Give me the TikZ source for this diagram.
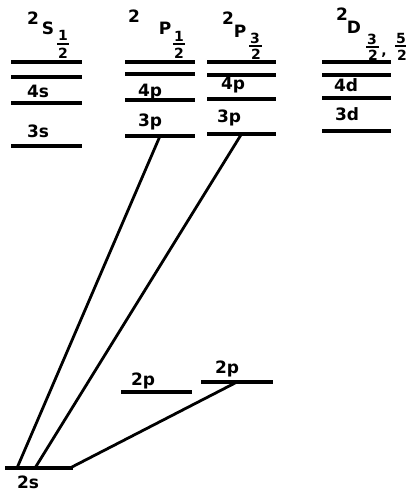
\documentclass[tikz,border=0pt]{standalone}
\usepackage{fontspec}
\setmainfont{DejaVu Sans}
\begin{document}
\begin{tikzpicture}[x=1pt,y=-1pt,
  lev/.style={fill=black, inner sep=0pt, minimum height=3.2pt},
  conn/.style={line width=2.8pt},
  lbl/.style={font=\bfseries\fontsize{17}{17}\selectfont, inner sep=0pt, anchor=base},
  ttl/.style={font=\bfseries\fontsize{17}{17}\selectfont, inner sep=0pt},
  frc/.style={font=\bfseries\fontsize{14}{14}\selectfont, inner sep=0pt},
  fbar/.style={line width=1.8pt}]
\useasboundingbox (0,0) rectangle (406,492);
% column 2S1/2
\node[lev, minimum width=71pt] (sa) at (46.5,62) {};
\node[lev, minimum width=71pt] (sb) at (46.5,77) {};
\node[lev, minimum width=71pt] (s4) at (46.5,103) {};
\node[lev, minimum width=71pt] (s3) at (46.5,146) {};
\node[lbl] (l4s) at (38,98) {4s};
\node[lbl] (l3s) at (38,137) {3s};
% column 2P1/2
\node[lev, minimum width=70pt] (pa) at (160,62) {};
\node[lev, minimum width=70pt] (pb) at (160,74) {};
\node[lev, minimum width=70pt] (p4) at (160,100) {};
\node[lev, minimum width=70pt] (p3) at (160,136) {};
\node[lbl] (l4p) at (150,97) {4p};
\node[lbl] (l3p) at (150,126) {3p};
% column 2P3/2
\node[lev, minimum width=69pt] (qa) at (241.5,62) {};
\node[lev, minimum width=69pt] (qb) at (241.5,75) {};
\node[lev, minimum width=69pt] (q4) at (241.5,99) {};
\node[lev, minimum width=69pt] (q3) at (241.5,134) {};
\node[lbl] (m4p) at (233,90) {4p};
\node[lbl] (m3p) at (229,122) {3p};
% column 2D
\node[lev, minimum width=69pt] (da) at (356.5,62) {};
\node[lev, minimum width=69pt] (db) at (356.5,75) {};
\node[lev, minimum width=69pt] (d4) at (356.5,98) {};
\node[lev, minimum width=69pt] (d3) at (356.5,131) {};
\node[lbl] (l4d) at (346,92) {4d};
\node[lbl] (l3d) at (347,121) {3d};
% bottom levels
\node[lev, minimum width=68pt] (g) at (39,468) {};
\node[lev, minimum width=71pt] (e1) at (156.5,392) {};
\node[lev, minimum width=72pt] (e2) at (237,382) {};
\node[lbl] (l2s) at (28,488) {2s};
\node[lbl] (l2p1) at (143,385) {2p};
\node[lbl] (l2p2) at (227,373) {2p};
% titles
\node[ttl] (t1a) at (33,18) {2};
\node[ttl] (t1b) at (48,28) {S};
\node[frc] (t1n) at (63,35) {1};
\node[frc] (t1d) at (63,53) {2};
\draw[fbar] (57,44) -- (69,44);
\node[ttl] (t2a) at (134,16) {2};
\node[ttl] (t2b) at (165,28) {P};
\node[frc] (t2n) at (179,36) {1};
\node[frc] (t2d) at (179,53) {2};
\draw[fbar] (173,44) -- (185,44);
\node[ttl] (t3a) at (228,18) {2};
\node[ttl] (t3b) at (240,31) {P};
\node[frc] (t3n) at (255,38) {3};
\node[frc] (t3d) at (256,54) {2};
\draw[fbar] (249,46) -- (262,46);
\node[ttl] (t4a) at (342,14) {2};
\node[ttl] (t4b) at (354,27) {D};
\node[frc] (t4n) at (372,39) {3};
\node[frc] (t4d) at (373,55) {2};
\draw[fbar] (366,47) -- (379,47);
\node[frc] (t4c) at (384,55) {,};
\node[frc] (t4e) at (401,38) {5};
\node[frc] (t4f) at (402,55) {2};
\draw[fbar] (395,46) -- (408,46);
% connectors
\coordinate (g1) at (17,468);
\coordinate (g2) at (35,468);
\coordinate (g3) at (70,468);
\draw[conn] (g1) -- (p3.center);
\draw[conn] (g2) -- (q3.center);
\draw[conn] (g3) -- (e2.center);
\end{tikzpicture}
\end{document}
